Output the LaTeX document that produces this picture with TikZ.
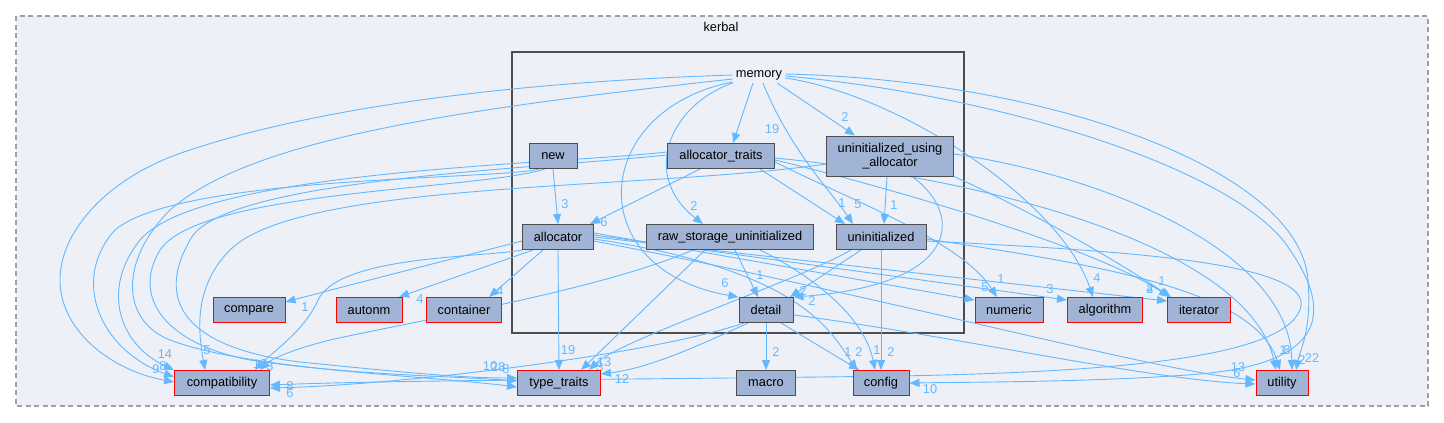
\documentclass[tikz,border=0pt]{standalone}
\usepackage{fontspec}
\setmainfont{Liberation Sans}
\usetikzlibrary{arrows.meta}
\pgfdeclarelayer{bg}
\pgfdeclarelayer{edges}
\pgfsetlayers{bg,edges,main}
\definecolor{nodefill}{HTML}{A2B4D6}
\definecolor{boxgray}{HTML}{4D4D4D}
\definecolor{edgec}{HTML}{63B8FF}
\definecolor{clfill}{HTML}{EDF0F7}
\definecolor{dashc}{HTML}{A0A0A0}
\newcommand{\fsz}{\fontsize{12.8}{14}\selectfont}
\begin{document}
\begin{tikzpicture}[x=1pt,y=-1pt,
  box/.style={draw=boxgray, fill=nodefill, line width=1pt, minimum height=25pt, inner sep=0pt, font=\fsz},
  ext/.style={box, draw=red},
  e/.style={draw=edgec, line width=0.9pt, -{Triangle[length=10pt,width=8pt]}},
  lbl/.style={text=edgec, font=\fsz, inner sep=0pt}]
\begin{pgfonlayer}{bg}
\fill[white] (0,0) rectangle (1444,423);
\draw[dashc, fill=clfill, line width=1.3pt, dash pattern=on 5pt off 3.5pt] (16,16) rectangle (1428,406);
\draw[boxgray, line width=2pt, fill=clfill] (512,52) rectangle (964,333);
\end{pgfonlayer}
\useasboundingbox (0,0) rectangle (1444,423);
\node[font=\fsz, inner sep=0pt] (kerbal) at (721,27) {kerbal};
\node[font=\fsz, inner sep=3pt] (mem) at (759,75) {memory};
% inner nodes
\node[box, minimum width=48pt] (new) at (553,156) {new};
\node[box, minimum width=107pt] (atr) at (721,156) {allocator\_traits};
\node[box, minimum width=127pt, minimum height=40pt, align=center] (uua) at (890,156) {uninitialized\_using\\\_allocator};
\node[box, minimum width=71pt] (alloc) at (558,237) {allocator};
\node[box, minimum width=167pt] (raw) at (730,237) {raw\_storage\_uninitialized};
\node[box, minimum width=90pt] (uninit) at (881,237) {uninitialized};
\node[box, minimum width=54pt] (detail) at (766,310) {detail};
% outer nodes
\node[ext, minimum width=72pt] (compare) at (249,310) {compare};
\node[ext, minimum width=66pt] (autonm) at (369,310) {autonm};
\node[ext, minimum width=75pt] (container) at (464,310) {container};
\node[ext, minimum width=68pt] (numeric) at (1009,310) {numeric};
\node[ext, minimum width=75pt] (algorithm) at (1105,310) {algorithm};
\node[ext, minimum width=63pt] (iterator) at (1199,310) {iterator};
\node[ext, minimum width=95pt] (compat) at (222,383) {compatibility};
\node[ext, minimum width=83pt] (tt) at (559,383) {type\_traits};
\node[box, minimum width=59pt] (macro) at (766,383) {macro};
\node[ext, minimum width=56pt] (config) at (881,383) {config};
\node[ext, minimum width=52pt] (utility) at (1282,383) {utility};

\begin{pgfonlayer}{edges}
% memory edges
\draw[e] ([xshift=-6pt]mem.south) -- ([xshift=12pt]atr.north) node[lbl] at (772,129) {19};
\draw[e] ([xshift=18pt]mem.south) -- ([xshift=-35pt]uua.north) node[lbl] at (845,117) {2};
\draw[e] (mem.south west) .. controls (670,105) and (640,175) .. ([xshift=-27pt]raw.north) node[lbl] at (694,206) {2};
\draw[e] ([yshift=1pt]mem.south west) .. controls (590,110) and (580,270) .. (detail.north west) node[lbl] at (725,283) {6};
\draw[e] ([xshift=4pt]mem.south) .. controls (790,150) and (830,190) .. ([xshift=-28pt]uninit.north) node[lbl] at (858,204) {5};
\draw[e] ([yshift=-3pt]mem.east) .. controls (900,95) and (1060,200) .. ([xshift=-12pt]algorithm.north) node[lbl] at (1097,278) {4};
\draw[e] ([yshift=1pt]mem.east) .. controls (1050,80) and (1300,170) .. (1308,280) .. controls (1312,330) and (1300,350) .. ([xshift=14pt]utility.north) node[lbl] at (1312,358) {22};
\draw[e] ([yshift=-1pt]mem.east) .. controls (1000,95) and (1240,170) .. (1290,250) .. controls (1345,330) and (1300,365) .. (1200,374) .. controls (1100,382) and (980,382) .. (config.east) node[lbl] at (930,389) {10};
\draw[e] (mem.west) .. controls (450,84) and (280,120) .. (190,150) .. controls (110,175) and (60,230) .. (60,280) .. controls (60,330) and (110,370) .. ([yshift=1pt]compat.west) node[lbl] at (156,369) {9};
\draw[e] ([yshift=-4pt]mem.west) .. controls (450,110) and (250,140) .. (170,210) .. controls (120,260) and (120,320) .. (170,340) .. controls (250,370) and (420,375) .. ([yshift=-4pt]tt.west) node[lbl] at (490,366) {10};
% new edges
\draw[e] (new.south) -- (alloc.north) node[lbl] at (565,204) {3};
\draw[e] ([xshift=-14pt]new.south) .. controls (500,180) and (180,175) .. (115,230) .. controls (70,280) and (100,350) .. ([yshift=6pt]compat.west) node[lbl] at (163,366) {8};
\draw[e] ([xshift=-8pt]new.south) .. controls (480,190) and (200,190) .. (160,250) .. controls (130,300) and (170,345) .. (250,360) .. controls (350,375) and (450,376) .. ([yshift=2pt]tt.west) node[lbl] at (506,369) {8};
% allocator_traits edges
\draw[e] ([xshift=-21pt]atr.south) -- ([xshift=32pt]alloc.north) node[lbl] at (604,222) {6};
\draw[e] ([xshift=39pt]atr.south) -- ([xshift=-36pt]uninit.north) node[lbl] at (842,203) {1};
\draw[e] ([yshift=-6pt]atr.east) .. controls (850,200) and (960,240) .. ([xshift=-12pt]numeric.north) node[lbl] at (1001,279) {1};
\draw[e] ([yshift=-4pt]atr.east) .. controls (900,190) and (1100,250) .. ([xshift=-30pt]iterator.north) node[lbl] at (1162,281) {1};
\draw[e] ([yshift=-2pt]atr.east) .. controls (1000,180) and (1250,250) .. ([xshift=-6pt]utility.north) node[lbl] at (1283,350) {1};
\draw[e] ([yshift=4pt]atr.west) .. controls (550,165) and (200,170) .. (140,240) .. controls (100,290) and (120,345) .. (compat.north west) node[lbl] at (165,354) {14};
\draw[e] ([yshift=1pt]atr.west) .. controls (520,170) and (220,180) .. (190,240) .. controls (150,310) and (200,350) .. (300,362) .. controls (400,372) and (460,378) .. ([yshift=5pt]tt.west) node[lbl] at (498,367) {28};
% uninitialized_using_allocator edges
\draw[e] ([xshift=-3pt]uua.south) -- ([xshift=3pt]uninit.north) node[lbl] at (894,205) {1};
\draw[e] ([xshift=22pt]uua.south) .. controls (965,215) and (960,285) .. (detail.north east) node[lbl] at (812,301) {2};
\draw[e] ([yshift=-8pt]uua.west) .. controls (650,190) and (300,180) .. (230,250) .. controls (190,290) and (200,340) .. ([xshift=-17pt]compat.north) node[lbl] at (207,350) {5};
\draw[e] (uua.south east) .. controls (1050,220) and (1130,270) .. ([xshift=-28pt]iterator.north) node[lbl] at (1150,289) {2};
\draw[e] ([yshift=2pt]uua.east) .. controls (1100,175) and (1290,250) .. ([xshift=10pt]utility.north) node[lbl] at (1302,360) {2};
% allocator edges
\draw[e] ([yshift=-4pt]alloc.west) .. controls (440,262) and (330,290) .. ([yshift=8pt]compare.east) node[lbl] at (305,307) {1};
\draw[e] ([xshift=-25pt]alloc.south) -- ([xshift=30pt]autonm.north) node[lbl] at (420,299) {4};
\draw[e] ([xshift=-15pt]alloc.south) -- ([xshift=25pt]container.north) node[lbl] at (500,291) {4};
\draw[e] (alloc.south) -- (tt.north) node[lbl] at (568,350) {19};
\draw[e] (alloc.south west) .. controls (480,258) and (340,255) .. (318,300) .. controls (305,330) and (275,350) .. ([xshift=33pt]compat.north) node[lbl] at (260,364) {13};
\draw[e] ([yshift=4pt]alloc.east) -- ([yshift=10pt]numeric.west) node[lbl] at (985,287) {5};
\draw[e] ([yshift=2pt]alloc.east) -- ([yshift=10pt]algorithm.west) node[lbl] at (1050,289) {3};
\draw[e] (alloc.east) -- ([yshift=9pt]iterator.west) node[lbl] at (1150,289) {4};
\draw[e] ([yshift=-2pt]alloc.east) .. controls (800,270) and (830,330) .. ([xshift=-24pt]config.north) node[lbl] at (859,352) {2};
\draw[e] ([yshift=-4pt]alloc.east) .. controls (900,300) and (1150,370) .. ([yshift=3pt]utility.west) node[lbl] at (1238,367) {13};
% raw_storage_uninitialized edges
\draw[e] ([xshift=5pt]raw.south) -- ([xshift=-8pt]detail.north) node[lbl] at (760,275) {1};
\draw[e] ([xshift=-25pt]raw.south) -- ([xshift=22pt]tt.north) node[lbl] at (600,367) {3};
\draw[e] ([xshift=-37pt]raw.south) .. controls (600,290) and (420,320) .. (330,340) .. controls (290,350) and (270,360) .. ([xshift=38pt]compat.north) node[lbl] at (270,366) {3};
\draw[e] ([xshift=30pt]raw.south) .. controls (820,280) and (865,320) .. ([xshift=-6pt]config.north) node[lbl] at (877,350) {1};
% uninitialized edges
\draw[e] ([xshift=-20pt]uninit.south) -- ([xshift=24pt]detail.north) node[lbl] at (803,291) {2};
\draw[e] (uninit.south) -- (config.north) node[lbl] at (891,352) {2};
\draw[e] ([xshift=-30pt]uninit.south) .. controls (800,280) and (620,340) .. ([xshift=30pt]tt.north) node[lbl] at (604,362) {13};
\draw[e] ([yshift=-4pt]uninit.east) .. controls (1100,250) and (1320,260) .. (1300,310) .. controls (1280,360) and (1100,372) .. (900,376) .. controls (600,380) and (400,380) .. ([yshift=-2pt]compat.east) node[lbl] at (290,386) {8};
\draw[e] ([yshift=-2pt]uninit.east) .. controls (1100,265) and (1255,290) .. ([xshift=-2pt]utility.north) node[lbl] at (1287,350) {8};
% detail edges
\draw[e] (detail.south) -- (macro.north) node[lbl] at (776,352) {2};
\draw[e] ([xshift=15pt]detail.south) -- ([xshift=-22pt]config.north) node[lbl] at (848,352) {1};
\draw[e] ([xshift=-18pt]detail.south) .. controls (700,345) and (650,368) .. ([yshift=9pt]tt.east) node[lbl] at (622,379) {12};
\draw[e] ([xshift=-22pt]detail.south) .. controls (650,355) and (400,385) .. ([yshift=-5pt]compat.east) node[lbl] at (290,393) {6};
\draw[e] ([yshift=-5pt]detail.east) .. controls (950,335) and (1150,380) .. ([yshift=-1pt]utility.west) node[lbl] at (1237,373) {6};
\end{pgfonlayer}
\end{tikzpicture}
\end{document}
